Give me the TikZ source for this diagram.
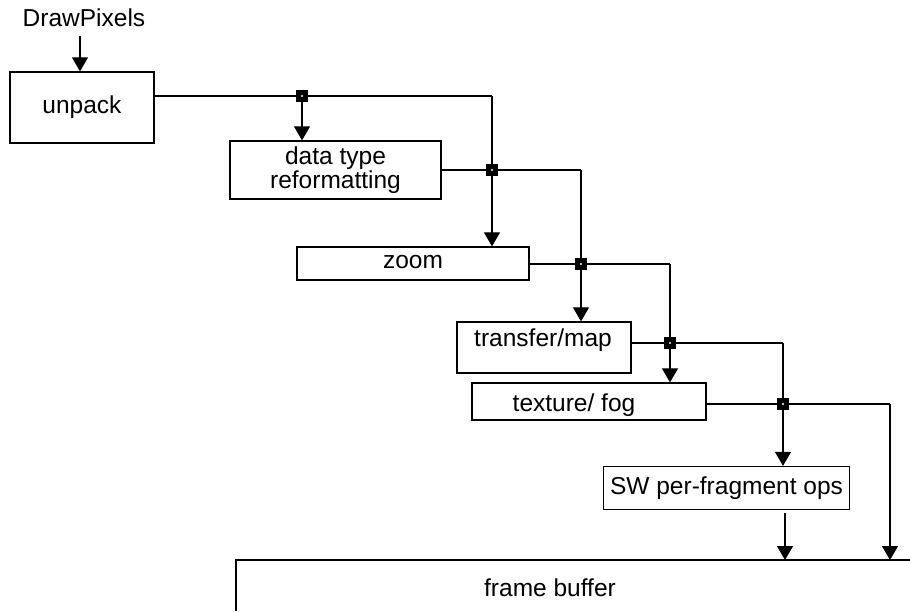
\documentclass[tikz,border=0pt]{standalone}
\usepackage{fontspec}
\setmainfont{Liberation Sans}
\usetikzlibrary{arrows.meta}
\begin{document}
\begin{tikzpicture}[x=1pt,y=-1pt,line width=1.2pt,
  box/.style={draw,line width=1.3pt,inner sep=0pt,align=center,font=\fontsize{24.5}{24}\selectfont},
  lbl/.style={inner sep=0pt,font=\fontsize{24.5}{24}\selectfont},
  arr/.style={-{Triangle[width=16pt,length=14pt]}},
  jn/.style={fill=black,draw=none,minimum size=12pt,inner sep=0pt,
    path picture={\fill[white] (path picture bounding box.center) circle (1.2pt);}}]
\useasboundingbox (0,0) rectangle (910,611);
% boxes
\node[box,minimum width=144pt,minimum height=71pt] (unpack) at (82,107.5) {\raisebox{3pt}{unpack}};
\node[box,minimum width=211pt,minimum height=58pt] (dtype) at (335.5,170) {data type\\reformatting};
\node[box,minimum width=232pt,minimum height=33pt] (zoom) at (413,263.5) {\raisebox{3pt}{zoom}};
\node[box,minimum width=174pt,minimum height=51pt] (tmap) at (544,347.5) {};
\node[lbl] (tmaptext) at (543,340) {transfer/map};
\node[box,minimum width=234pt,minimum height=37pt] (tfog) at (589,401.5) {};
\node[lbl] (tfogtext) at (574,405) {texture/ fog};
\node[box,minimum width=246pt,minimum height=43pt] (sw) at (726.5,488) {SW per-fragment ops};
\node[lbl] (dp) at (84,18) {DrawPixels};
\node[lbl] (fbtext) at (550,588) {frame buffer};
% frame buffer outline
\coordinate (fbl) at (236,560);
\draw[line width=1.3pt] (236,611) -- (fbl) -- (910,560);
% junction coordinates
\coordinate (j1) at (302,96);
\coordinate (j2) at (492,170);
\coordinate (j3) at (581,264);
\coordinate (j4) at (670,343);
\coordinate (j5) at (783,404);
\coordinate (tapout) at (890,404);
\coordinate (swout) at (785,513);
% connectors
\draw[arr] (dp.south -| unpack.north) ++(-2,8) coordinate (dpstart) -- (dpstart |- unpack.north);
\draw (unpack.east |- j1) -- (j1) -- (j1 -| j2);
\draw[arr] (j1 -| j2) -- (j2) -- (j2 |- zoom.north);
\draw[arr] (j1) -- (j1 |- dtype.north);
\draw (dtype.east |- j2) -- (j2) -- (j2 -| j3);
\draw[arr] (j2 -| j3) -- (j3) -- (j3 |- tmap.north);
\draw (zoom.east |- j3) -- (j3) -- (j3 -| j4);
\draw[arr] (j3 -| j4) -- (j4) -- (j4 |- tfog.north);
\draw (tmap.east |- j4) -- (j4) -- (j4 -| j5);
\draw[arr] (j4 -| j5) -- (j5) -- (j5 |- sw.north);
\draw (tfog.east |- j5) -- (j5) -- (tapout);
\draw[arr] (tapout) -- (tapout |- fbl);
\draw[arr] (swout) -- (swout |- fbl);
% junction squares
\foreach \j in {1,...,5}{\node[jn] (J\j) at (j\j) {};}
\end{tikzpicture}
\end{document}
